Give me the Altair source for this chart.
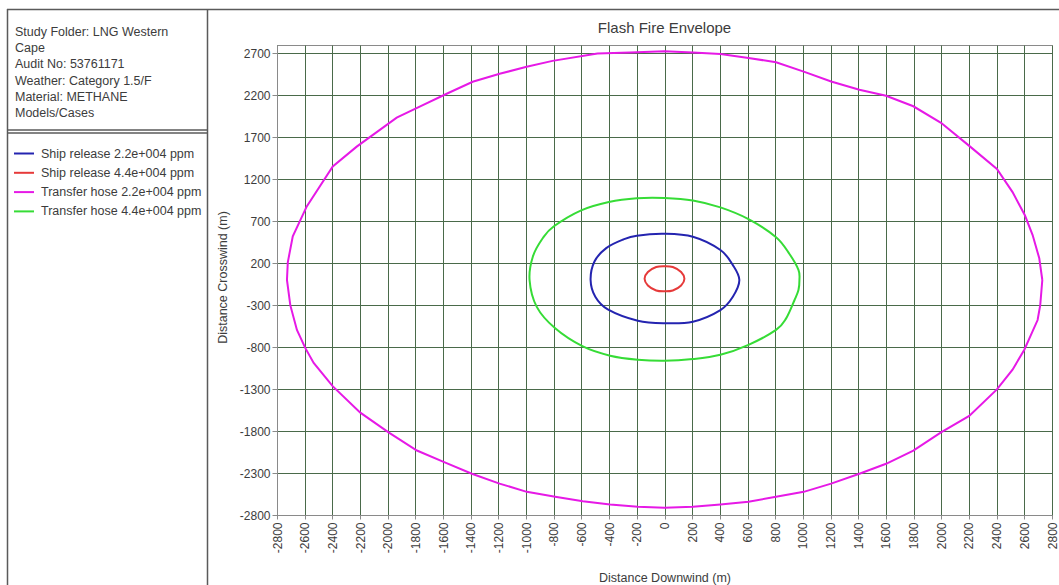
import altair as alt
import pandas as pd

# ---- flash fire envelope contours (downwind m, crosswind m) ----
series_names = [
    "Ship release 2.2e+004 ppm",
    "Ship release 4.4e+004 ppm",
    "Transfer hose 2.2e+004 ppm",
    "Transfer hose 4.4e+004 ppm",
]
series_colors = ["#2424b0", "#e63a3a", "#e619e6", "#36dc36"]

# small contours: closed rings (first point not repeated)
ship_22_x = [541, 493, 404, 205, 0, -200, -301, -421, -506, -534, -500, -410, -193, 0, 205, 404, 493]
ship_22_y = [0, 180, 357, 515, 550, 528, 480, 380, 220, 0, -200, -350, -485, -515, -497, -359, -202]

ship_44_x = [144, 120, 60, 0, -60, -120, -144, -120, -60, 0, 60, 120]
ship_44_y = [15, 95, 155, 165, 155, 95, 15, -65, -125, -135, -125, -65]

hose_44_x = [975, 968, 903, 806, 607, 404, 205, 0, -200, -402, -602, -799, -879, -951, -975,
             -923, -790, -590, -393, -193, 0, 205, 404, 607, 806, 879, 939, 968]
hose_44_y = [0, 120, 310, 510, 725, 865, 948, 978, 975, 930, 830, 640, 500, 280, 0,
             -320, -576, -792, -902, -950, -963, -942, -891, -772, -595, -457, -241, -120]

# large contour: traced vertex by vertex, closed explicitly
hose_22_x = [2730, 2708, 2660, 2604, 2515, 2402, 2202, 1998, 1798, 1601, 1408, 1204, 1006, 806, 607, 404,
             205, 0, -250, -484, -809, -996, -1191, -1386, -1574, -1769, -1935, -2224, -2397, -2585,
             -2686, -2722, -2728, -2704, -2656, -2595, -2535, -2398, -2198, -1994, -1789, -1592,
             -1392, -1192, -995, -790, -590, -393, -193, 0, 205, 404, 607, 806, 1006, 1204, 1408,
             1601, 1798, 1998, 2202, 2402, 2515, 2600, 2696, 2715, 2730]
hose_22_y = [0, 259, 535, 771, 1047, 1322, 1598, 1873, 2070, 2196, 2267, 2365, 2483, 2595, 2645, 2692,
             2712, 2725, 2712, 2700, 2611, 2540, 2457, 2362, 2219, 2065, 1934, 1589, 1352, 877,
             520, 211, 0, -300, -595, -812, -989, -1265, -1580, -1816, -2032, -2170,
             -2308, -2426, -2524, -2583, -2635, -2674, -2701, -2713, -2701, -2674, -2642, -2583, -2524,
             -2426, -2308, -2190, -2032, -1816, -1619, -1304, -1068, -831, -477, -300, 0]

info_lines = [
    "Study Folder: LNG Western",
    "Cape",
    "Audit No: 53761171",
    "Weather: Category 1.5/F",
    "Material: METHANE",
    "Models/Cases",
]
chart_title = "Flash Fire Envelope"

x_ticks = list(range(-2800, 2801, 200))
y_ticks = list(range(-2800, 2701, 500))

rows = []
for name, xs, ys in [
    (series_names[0], ship_22_x, ship_22_y),
    (series_names[1], ship_44_x, ship_44_y),
    (series_names[2], hose_22_x, hose_22_y),
    (series_names[3], hose_44_x, hose_44_y),
]:
    for i, (dx, cy) in enumerate(zip(xs, ys)):
        rows.append({"series": name, "order": i, "downwind": dx, "crosswind": cy})
df = pd.DataFrame(rows)

# ---- layout (pixels) ----
W, H = 775, 470
PAD_L, PAD_T, PAD_R, PAD_B = 277, 45, 7, 70
FONT = "Liberation Sans"
TXT = "#3c3c3c"
GRID = "#4a6a4a"
FRAME = "#8a8a8a"
PANEL = "#5a5a5a"

one = pd.DataFrame({"k": [0]})

x_enc = alt.X(
    "downwind:Q",
    scale=alt.Scale(domain=[-2800, 2800], nice=False, zero=False),
    axis=alt.Axis(
        values=x_ticks,
        title="Distance Downwind (m)",
        labelAngle=270,
        labelAlign="right",
        labelBaseline="middle",
        labelPadding=3,
        labelExpr="datum.value + ''",
        labelOverlap=False,
        labelFlush=False,
        tickSize=4,
        titleY=62,
        titleBaseline="middle",
    ),
)
y_enc = alt.Y(
    "crosswind:Q",
    scale=alt.Scale(domain=[-2800, 2800], nice=False, zero=False),
    axis=alt.Axis(
        values=y_ticks,
        title="Distance Crosswind (m)",
        labelPadding=2,
        labelExpr="datum.value + ''",
        labelOverlap=False,
        labelFlush=False,
        tickSize=5,
        titleAngle=270,
        titleX=-55,
        titleY=232,
        titleAlign="center",
        titleBaseline="middle",
    ),
)
color_enc = alt.Color(
    "series:N",
    scale=alt.Scale(domain=series_names, range=series_colors),
    legend=alt.Legend(
        title=None,
        orient="none",
        legendX=13 - PAD_L,
        legendY=142.5 - PAD_T,
        symbolType="stroke",
        symbolSize=400,
        symbolStrokeWidth=2,
        labelOffset=6,
        labelFontSize=12.5,
        labelFont=FONT,
        labelColor=TXT,
        rowPadding=1.3,
        padding=0,
        labelLimit=300,
    ),
)

base = alt.Chart(df).encode(x=x_enc, y=y_enc, color=color_enc, order="order:Q")

# smooth closed rings for the three smaller envelopes
smooth = base.transform_filter(
    alt.FieldOneOfPredicate(field="series", oneOf=[series_names[0], series_names[1], series_names[3]])
).mark_line(strokeWidth=2, clip=True, interpolate="cardinal-closed")

# segmented outline for the largest envelope
segmented = base.transform_filter(
    alt.FieldEqualPredicate(field="series", equal=series_names[2])
).mark_line(strokeWidth=2, clip=True)

# ---- chart title and left information panel ----
title = alt.Chart(one).mark_text(
    text=chart_title, align="center", baseline="middle", fontSize=15, font=FONT, color=TXT,
).encode(x=alt.value(W / 2), y=alt.value(28 - PAD_T))

info = alt.Chart(one).mark_text(
    text=info_lines, align="left", baseline="top", fontSize=12.5, lineHeight=16.2,
    font=FONT, color=TXT,
).encode(x=alt.value(15 - PAD_L), y=alt.value(26 - PAD_T))


def hline(y, x0, x1):
    return alt.Chart(one).mark_rule(color=PANEL, strokeWidth=1.5).encode(
        x=alt.value(x0 - PAD_L), x2=alt.value(x1 - PAD_L), y=alt.value(y - PAD_T)
    )


def vline(x, y0, y1):
    return alt.Chart(one).mark_rule(color=PANEL, strokeWidth=1.5).encode(
        x=alt.value(x - PAD_L), y=alt.value(y0 - PAD_T), y2=alt.value(y1 - PAD_T)
    )


panel = [
    hline(9.5, 7, 1059),
    vline(7.5, 9, 585),
    vline(207.5, 9, 585),
    hline(130, 7, 207),
    hline(133, 7, 207),
]

chart = alt.layer(*panel, title, info, segmented, smooth).properties(
    width=W,
    height=H,
    background="white",
    autosize=alt.AutoSizeParams(type="none"),
    padding={"left": PAD_L, "top": PAD_T, "right": PAD_R, "bottom": PAD_B},
).configure_view(
    stroke=FRAME, strokeWidth=1
).configure_axis(
    grid=True,
    gridColor=GRID,
    gridWidth=1,
    gridOpacity=1,
    domainColor=FRAME,
    tickColor=FRAME,
    labelFont=FONT,
    labelFontSize=12,
    labelColor=TXT,
    titleFont=FONT,
    titleFontSize=12.5,
    titleFontWeight="normal",
    titleColor=TXT,
)

chart.save("out.html", embed_options={"renderer": "svg", "actions": False})
